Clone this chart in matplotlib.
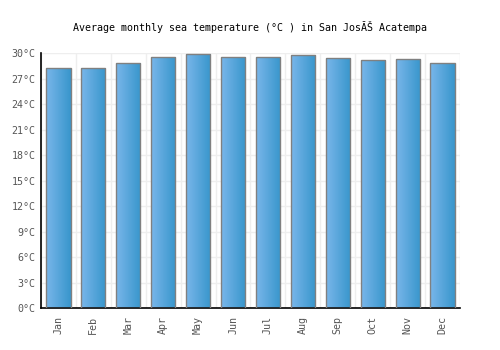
import numpy as np
import matplotlib
matplotlib.use("Agg")
import matplotlib.pyplot as plt
from matplotlib.colors import LinearSegmentedColormap

months = ["Jan", "Feb", "Mar", "Apr", "May", "Jun",
          "Jul", "Aug", "Sep", "Oct", "Nov", "Dec"]
sea_temp = [28.2, 28.2, 28.8, 29.6, 29.9, 29.6,
            29.5, 29.8, 29.4, 29.2, 29.3, 28.8]
y_ticks = [0, 3, 6, 9, 12, 15, 18, 21, 24, 27, 30]
y_labels = [f"{t}°C" for t in y_ticks]

plt.rcParams['font.family'] = ['DejaVu Sans Mono']

fig = plt.figure(figsize=(5, 3.5), dpi=100)
ax = fig.add_axes([0.082, 0.12, 0.838, 0.728])

x = np.arange(len(months))
bars = ax.bar(x, sea_temp, width=0.69, color='none',
              edgecolor='#808080', linewidth=1.0, zorder=3)

# horizontal gradient fill, light on the left, darker on the right
cmap = LinearSegmentedColormap.from_list('bar', ['#79b6ea', '#3896cc'])
grad = np.linspace(0, 1, 64).reshape(1, -1)
for b in bars:
    x0, y0 = b.get_x(), b.get_y()
    w, h = b.get_width(), b.get_height()
    im = ax.imshow(grad, cmap=cmap, aspect='auto', zorder=2,
                   extent=[x0, x0 + w, y0, y0 + h], interpolation='bilinear')
    im.set_clip_path(b)

ax.set_xlim(-0.5, len(months) - 0.5)
ax.set_ylim(0, 30)
ax.set_xticks(x)
ax.set_xticklabels(months, rotation=90, fontsize=7.2, color='#555555')
ax.set_yticks(y_ticks)
ax.set_yticklabels(y_labels, fontsize=7.2, color='#555555')
ax.tick_params(axis='y', length=0, pad=4)
ax.tick_params(axis='x', length=0, pad=6)

# grid: horizontal at ticks, vertical between categories
ax.set_xticks(np.arange(-0.5, len(months), 1), minor=True)
ax.grid(axis='y', color='#eeeeee', linewidth=1, zorder=0)
ax.grid(axis='x', which='minor', color='#eeeeee', linewidth=1, zorder=0)
ax.tick_params(which='minor', length=0)

for side in ['top', 'right']:
    ax.spines[side].set_visible(False)
ax.spines['left'].set_color('black')
ax.spines['bottom'].set_color('black')
ax.spines['left'].set_linewidth(1.2)
ax.spines['bottom'].set_linewidth(1.2)

fig.text(0.5, 0.922, "Average monthly sea temperature (°C ) in San JosĂŠ Acatempa",
         ha='center', va='center', fontsize=7.2, color='black')

fig.savefig("out.png", dpi=100)
